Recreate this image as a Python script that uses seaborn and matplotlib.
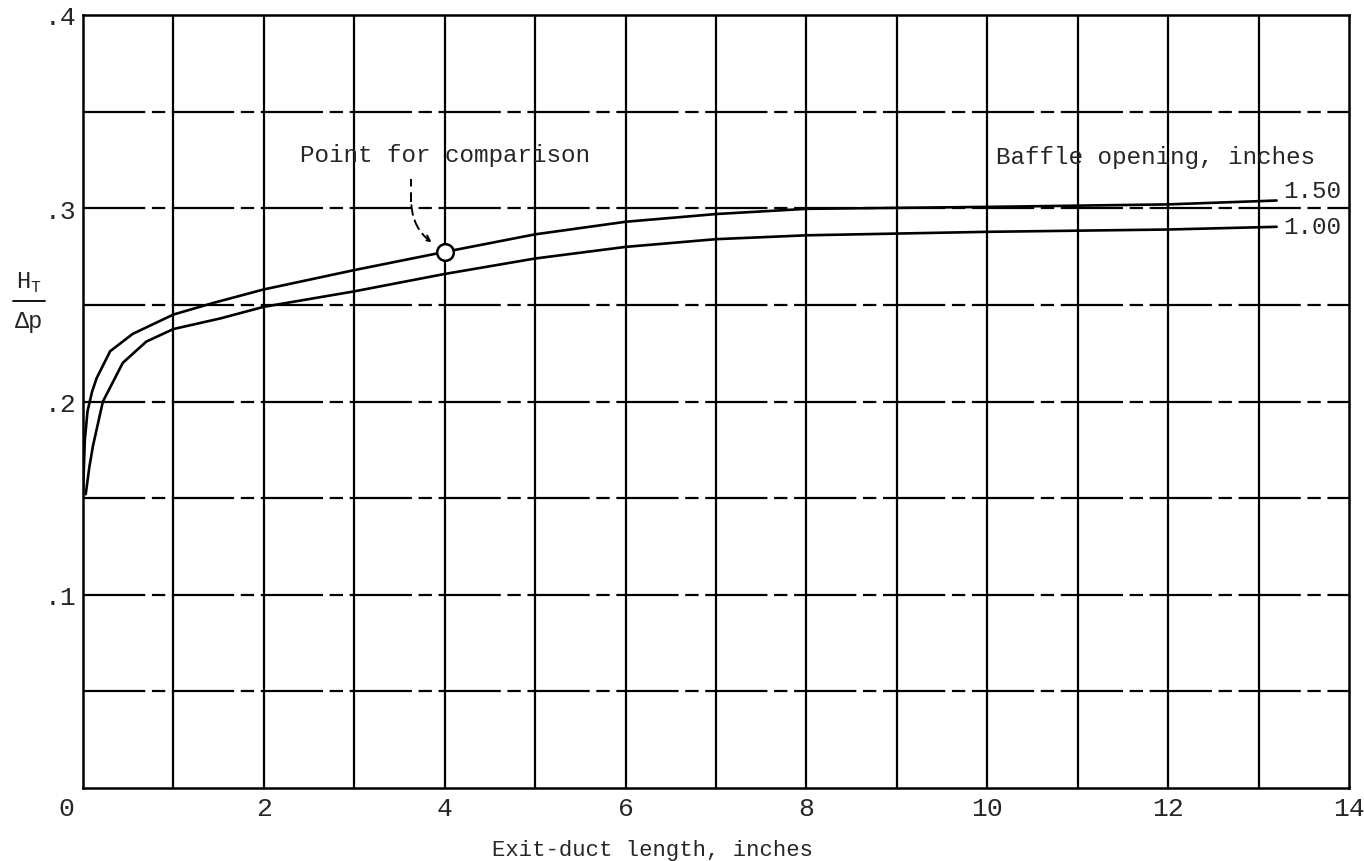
import numpy as np
import pandas as pd
import matplotlib
matplotlib.use("Agg")
import matplotlib.pyplot as plt
import seaborn as sns

sns.set_style("white")
plt.rcParams['font.family'] = ['Liberation Mono', 'DejaVu Sans Mono']

# values
x_150 = [0.0, 0.02, 0.05, 0.1, 0.15, 0.3, 0.55, 1.0, 1.44, 2.0, 3.0, 4.0, 5.0, 6.0, 7.0, 8.0, 10.0, 12.0, 13.2]
y_150 = [0.152, 0.180, 0.195, 0.205, 0.212, 0.226, 0.235, 0.245, 0.251, 0.258, 0.268, 0.2774, 0.2865, 0.293, 0.297, 0.2997, 0.3007, 0.302, 0.304]
x_100 = [0.03, 0.07, 0.11, 0.22, 0.44, 0.7, 1.0, 1.52, 2.0, 3.0, 4.0, 5.0, 6.0, 7.0, 8.0, 10.0, 12.0, 13.2]
y_100 = [0.152, 0.166, 0.177, 0.200, 0.220, 0.231, 0.2375, 0.243, 0.249, 0.257, 0.266, 0.274, 0.280, 0.284, 0.286, 0.2878, 0.289, 0.2904]
openings = ["1.50", "1.00"]
compare_x, compare_y = 4.0, 0.2774

x_ticks = [0, 2, 4, 6, 8, 10, 12, 14]
x_ticklabels = ["0  ", "2", "4", "6", "8", "10", "12", "14"]
y_ticks = [0.1, 0.2, 0.3, 0.4]
y_ticklabels = [".1", ".2", ".3", ".4"]

df = pd.concat([
    pd.DataFrame({"length": x_150, "ratio": y_150, "opening": openings[0]}),
    pd.DataFrame({"length": x_100, "ratio": y_100, "opening": openings[1]}),
])

fig = plt.figure(figsize=(13.64, 8.62), dpi=100)
ax = fig.add_axes([83/1364, 1 - 789/862, (1349-83)/1364, (789-16)/862])

# grid
for gx in range(1, 14):
    ax.axvline(gx, color="black", lw=1.6, zorder=1)
for gy in np.arange(0.05, 0.4, 0.05):
    ax.axhline(gy, color="black", lw=1.6, ls=(0, (28, 3, 6, 3)), zorder=1)

sns.lineplot(data=df, x="length", y="ratio", units="opening", estimator=None,
             color="black", lw=1.9, sort=False, ax=ax, zorder=3)

ax.plot([compare_x], [compare_y], marker="o", ms=12, mfc="white", mec="black", mew=1.8, zorder=5)

ax.annotate("", xy=(3.88, 0.2815), xytext=(3.63, 0.303),
            arrowprops=dict(arrowstyle="->", color="black", lw=1.4, ls=(0, (5, 3)),
                            connectionstyle="arc3,rad=0.25"))
ax.plot([3.63, 3.63], [0.303, 0.315], color="black", lw=1.4, ls=(0, (5, 3)))

ax.text(2.4, 0.328, "Point for comparison", fontsize=17.5, va="center", ha="left", zorder=4)
ax.text(10.1, 0.3266, "Baffle opening, inches", fontsize=17.5, va="center", ha="left", zorder=4)
ax.text(13.27, 0.309, openings[0], fontsize=17.5, va="center", ha="left", zorder=4)
ax.text(13.27, 0.2904, openings[1], fontsize=17.5, va="center", ha="left", zorder=4)

ax.set_xlim(0, 14)
ax.set_ylim(0, 0.4)
ax.set_xticks(x_ticks)
ax.set_xticklabels(x_ticklabels, fontsize=19)
ax.set_yticks(y_ticks)
ax.set_yticklabels(y_ticklabels, fontsize=19)
ax.tick_params(axis="x", length=0, pad=6)
ax.tick_params(axis="y", length=0, pad=5)
ax.set_xlabel("")
ax.set_ylabel("")
for s in ax.spines.values():
    s.set_color("black")
    s.set_linewidth(1.8)

# x label sits left of centre in the original
fig.text(653/1364, 1/862, "Exit-duct length, inches", fontsize=16, ha="center", va="bottom")

# y label as a stacked fraction
fig.text(29/1364, 1 - 283/862, r"H$_\mathregular{T}$", fontsize=17, ha="center", va="center")
fig.text(29/1364, 1 - 322/862, "\u0394p", fontsize=17, ha="center", va="center")
fig.add_artist(plt.Line2D([13/1364, 45/1364], [1 - 302/862, 1 - 302/862], color="black", lw=1.3))

fig.savefig("out.png", dpi=100)
